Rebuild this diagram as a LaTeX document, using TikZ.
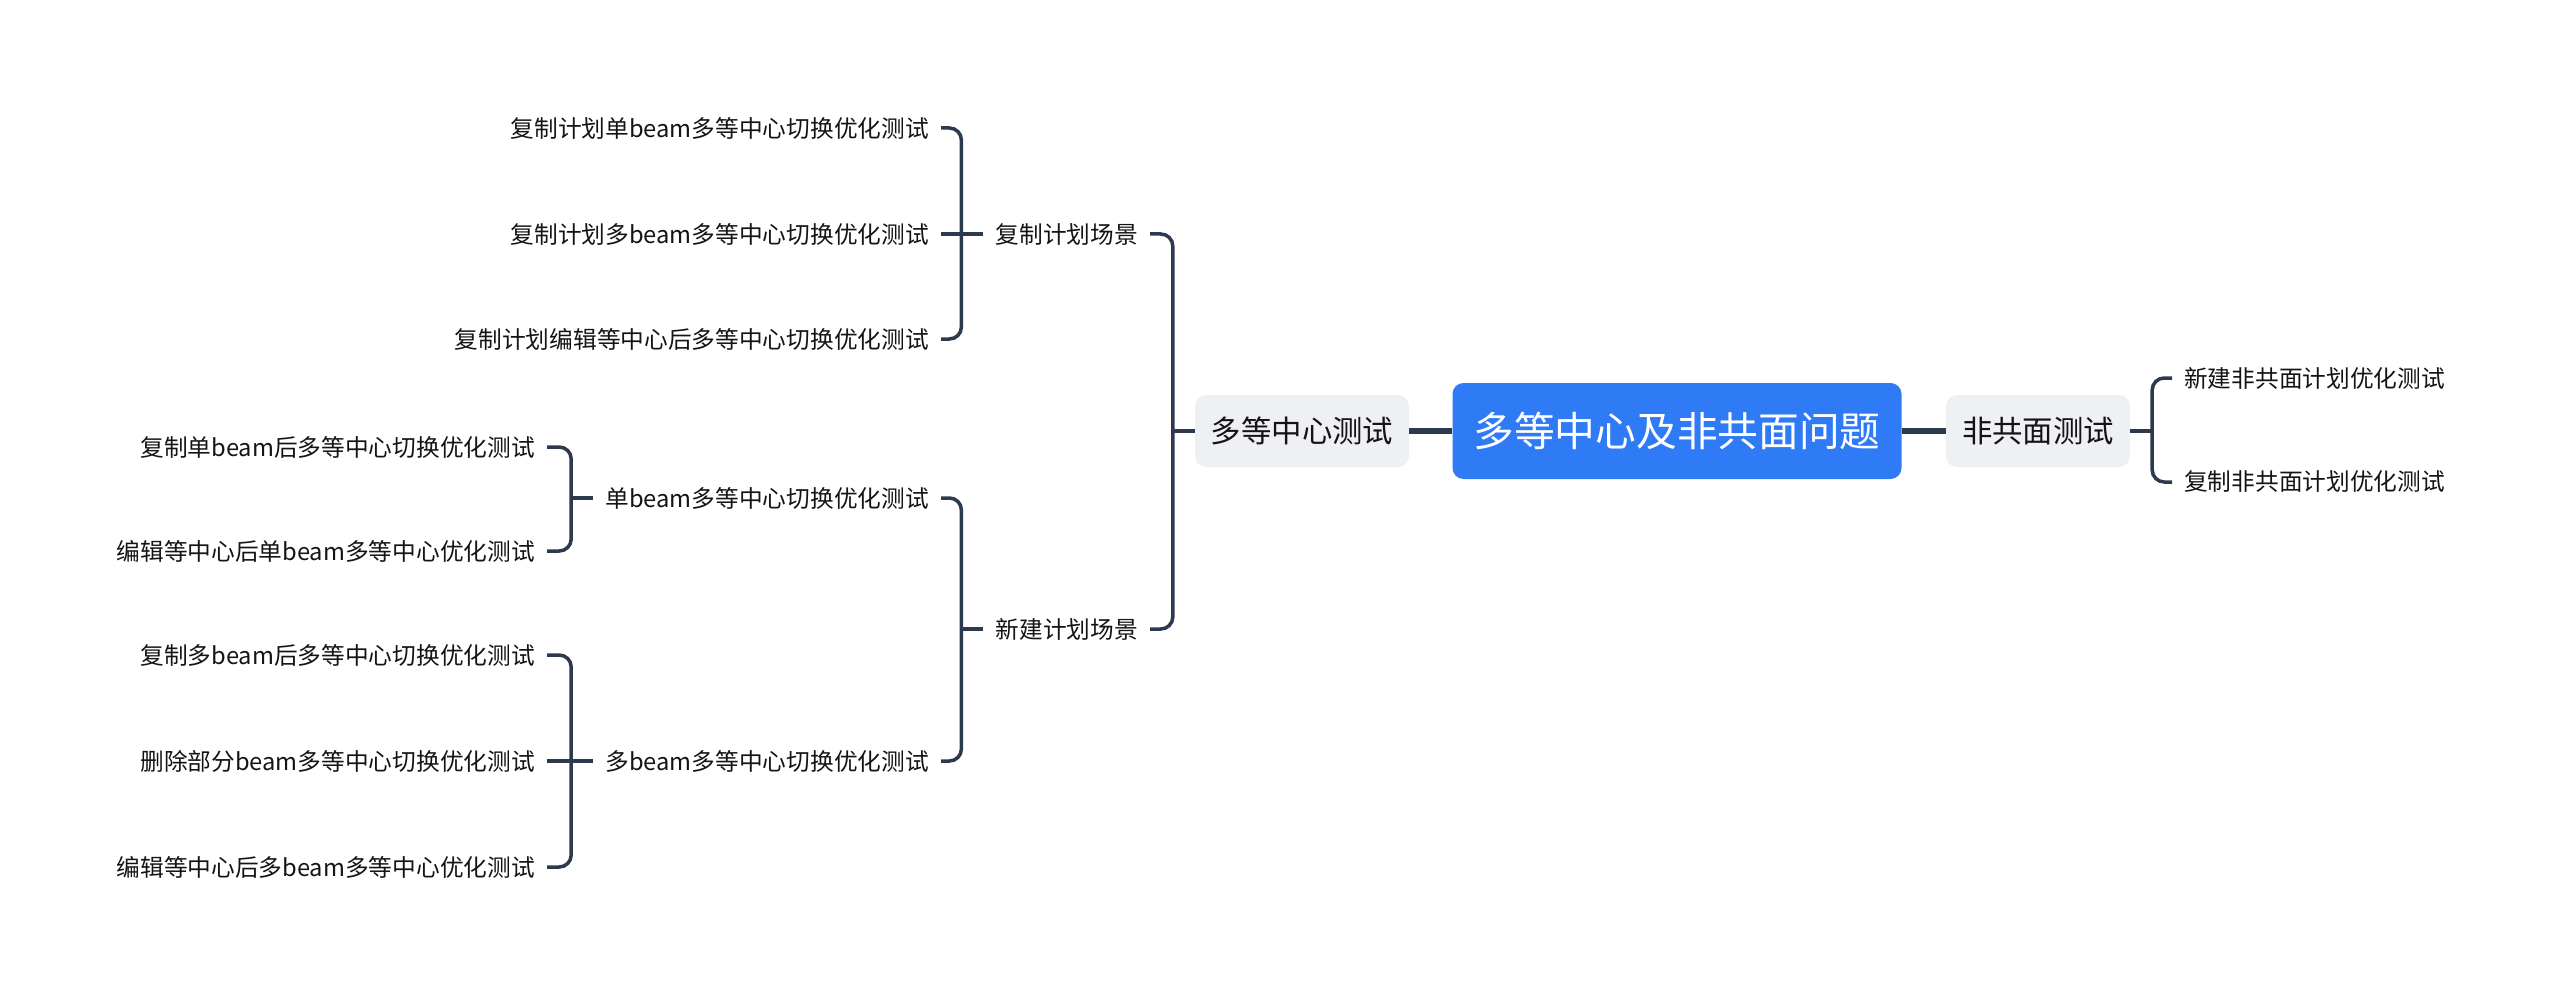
\documentclass[tikz,border=0pt]{standalone}
\usepackage{fontspec}
\newfontfamily\cjk{Noto Sans CJK SC}
\definecolor{rootblue}{RGB}{47,123,246}
\definecolor{subgray}{RGB}{238,240,244}
\definecolor{linec}{RGB}{44,58,77}
\definecolor{txt}{RGB}{20,20,20}
\begin{document}
\begin{tikzpicture}[x=1pt,y=-1pt,
  rootbox/.style={fill=rootblue,rounded corners=11pt,minimum width=449pt,minimum height=96pt,
    text=white,font=\cjk\fontsize{40.7}{48}\selectfont,inner sep=0pt},
  subbox/.style={fill=subgray,rounded corners=11pt,minimum height=72pt,text=txt,
    font=\cjk\fontsize{30.4}{36}\selectfont,inner sep=0pt},
  leaf/.style={text=txt,font=\cjk\fontsize{23.7}{28}\selectfont,inner xsep=12pt,inner ysep=2pt},
  link/.style={line width=5.5pt,draw=linec},
  brk/.style={line width=3.5pt,draw=linec,rounded corners=12pt}]
\useasboundingbox (0,0) rectangle (2560,995);
% nodes
\node[rootbox] (root) at (1677,431) {多等中心及非共面问题};
\node[subbox,minimum width=214pt] (n1) at (1302,431) {多等中心测试};
\node[subbox,minimum width=184pt] (n2) at (2038,431) {非共面测试};
\node[leaf,anchor=west] (r1) at (2172,378) {新建非共面计划优化测试};
\node[leaf,anchor=west] (r2) at (2172,482) {复制非共面计划优化测试};
\node[leaf,anchor=east] (a) at (1150,234) {复制计划场景};
\node[leaf,anchor=east] (b) at (1150,629) {新建计划场景};
\node[leaf,anchor=east] (a1) at (941,128) {复制计划单beam多等中心切换优化测试};
\node[leaf,anchor=east] (a2) at (941,234) {复制计划多beam多等中心切换优化测试};
\node[leaf,anchor=east] (a3) at (941,339) {复制计划编辑等中心后多等中心切换优化测试};
\node[leaf,anchor=east] (b1) at (941,498) {单beam多等中心切换优化测试};
\node[leaf,anchor=east] (b2) at (941,761) {多beam多等中心切换优化测试};
\node[leaf,anchor=east] (c1) at (547,447) {复制单beam后多等中心切换优化测试};
\node[leaf,anchor=east] (c2) at (547,551) {编辑等中心后单beam多等中心优化测试};
\node[leaf,anchor=east] (d1) at (547,655) {复制多beam后多等中心切换优化测试};
\node[leaf,anchor=east] (d2) at (547,761) {删除部分beam多等中心切换优化测试};
\node[leaf,anchor=east] (d3) at (547,867) {编辑等中心后多beam多等中心优化测试};
% connectors
\draw[link] (root.west) -- (n1.east);
\draw[link] (root.east) -- (n2.west);
\draw[brk] (n2.east) -- ++(22,0) coordinate (jr);
\draw[brk] (jr) |- (r1.west);
\draw[brk] (jr) |- (r2.west);
\draw[brk] (n1.west) -- ++(-22,0) coordinate (j1);
\draw[brk] (j1) |- (a.east);
\draw[brk] (j1) |- (b.east);
\draw[brk] (a.west) -- ++(-22,0) coordinate (ja);
\draw[brk] (ja) |- (a1.east);
\draw[brk] (ja) -- (a2.east);
\draw[brk] (ja) |- (a3.east);
\draw[brk] (b.west) -- ++(-22,0) coordinate (jb);
\draw[brk] (jb) |- (b1.east);
\draw[brk] (jb) |- (b2.east);
\draw[brk] (b1.west) -- ++(-22,0) coordinate (jc);
\draw[brk] (jc) |- (c1.east);
\draw[brk] (jc) |- (c2.east);
\draw[brk] (b2.west) -- ++(-22,0) coordinate (jd);
\draw[brk] (jd) |- (d1.east);
\draw[brk] (jd) -- (d2.east);
\draw[brk] (jd) |- (d3.east);
\end{tikzpicture}
\end{document}
